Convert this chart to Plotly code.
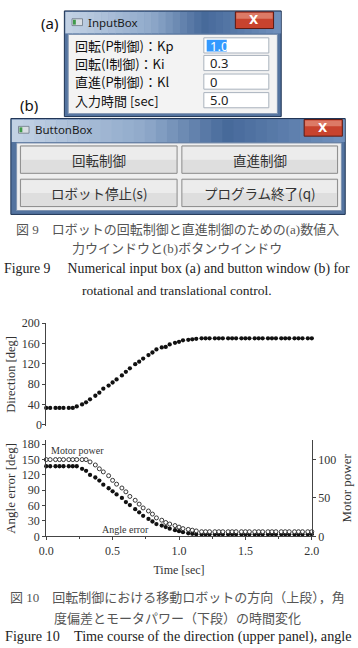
import plotly.graph_objects as go

# ---------------- data ----------------
time_sec = [0.00, 0.03, 0.07, 0.10, 0.13, 0.17, 0.20, 0.23, 0.27, 0.30,
            0.33, 0.37, 0.40, 0.43, 0.47, 0.50, 0.53, 0.57, 0.60, 0.63,
            0.67, 0.70, 0.73, 0.77, 0.80, 0.83, 0.87, 0.90, 0.93, 0.97,
            1.00, 1.03, 1.07, 1.10, 1.13, 1.17, 1.20, 1.23, 1.27, 1.30,
            1.33, 1.37, 1.40, 1.43, 1.47, 1.50, 1.53, 1.57, 1.60, 1.63,
            1.67, 1.70, 1.73, 1.77, 1.80, 1.83, 1.87, 1.90, 1.93, 1.97,
            2.00]

direction_deg = [33, 33, 33, 33, 33, 33, 33,
                 36, 40, 44, 50, 57, 63, 71, 77, 83, 89, 97, 104, 111, 119,
                 124, 130, 137, 142, 148, 152, 153, 158, 161, 163, 166, 167,
                 168, 169,
                 170, 170, 170, 170, 170, 170, 170, 170, 170, 170, 170, 170,
                 170, 170, 170, 170, 170, 170, 170, 170, 170, 170, 170, 170,
                 170, 170]

angle_error_deg = [137, 137, 137, 137, 137, 137, 137, 137,
                   132, 128, 120, 115, 109, 101, 94, 88, 82, 75, 67, 61, 53,
                   47, 40, 34, 29, 24, 21, 18, 15, 12, 10, 8, 6, 5,
                   4, 4, 4, 4, 4, 4, 4, 4, 4, 4, 4, 4, 4, 4, 4, 4, 4, 4, 4,
                   4, 4, 4, 4, 4, 4, 4, 4]

motor_power = [100, 100, 100, 100, 100, 100, 100, 100, 100, 100,
               97, 93, 88, 84, 79, 73, 68, 63, 58, 52, 47, 42, 37, 33, 29,
               24, 21, 18, 16, 14, 12, 10, 9, 8, 7,
               6, 6, 6, 6, 6, 6, 6, 6, 6, 6, 6, 6, 6, 6, 6, 6, 6, 6, 6, 6,
               6, 6, 6, 6, 6, 6]

direction_ticks = [0, 40, 80, 120, 160, 200]
error_ticks = [0, 30, 60, 90, 120, 150, 180]
power_ticks = [0, 50, 100]
time_ticks = [0.0, 0.5, 1.0, 1.5, 2.0]

input_labels = ["回転(P制御)：Kp", "回転(I制御)：Ki", "直進(P制御)：Kl", "入力時間 [sec]"]
input_values = ["1.0", "0.3", "0", "5.0"]
button_labels = ["回転制御", "直進制御", "ロボット停止(s)", "プログラム終了(q)"]

# ---------------- helpers ----------------
W, H = 358, 648
def px(x):
    return x / W
def py(y):
    return 1 - y / H

shapes = []
annotations = []

def rect(x0, y0, x1, y1, fill, line=None, lw=1):
    shapes.append(dict(type="rect", xref="paper", yref="paper",
                       x0=px(x0), x1=px(x1), y0=py(y1), y1=py(y0),
                       fillcolor=fill,
                       line=dict(color=line if line else fill, width=lw if line else 0),
                       layer="above"))

def text(x, y, s, size, color="#111", family="Noto Sans CJK JP", xanchor="center"):
    annotations.append(dict(x=px(x), y=py(y), xref="paper", yref="paper", text=s,
                            showarrow=False, xanchor=xanchor, yanchor="middle",
                            font=dict(size=size, color=color, family=family)))

def hex2rgb(h):
    h = h.lstrip("#")
    return tuple(int(h[i:i + 2], 16) for i in (0, 2, 4))

def grad(stops, t):
    for (t0, c0), (t1, c1) in zip(stops[:-1], stops[1:]):
        if t0 <= t <= t1:
            f = (t - t0) / (t1 - t0) if t1 > t0 else 0
            a, b = hex2rgb(c0), hex2rgb(c1)
            return "rgb(%d,%d,%d)" % tuple(round(a[k] + (b[k] - a[k]) * f) for k in range(3))
    return stops[-1][1]

title_stops = [(0.0, "#c2d1e4"), (0.4, "#8fa9ca"), (0.65, "#46699a"), (1.0, "#6f8fbb")]

def window(x0, y0, x1, y1, title_h, title, cx0):
    rect(x0, y0, x1, y1, "#53739f", "#1d3253", 1)
    n = 30
    w = (x1 - x0 - 2) / n
    for i in range(n):
        rect(x0 + 1 + i * w, y0 + 1, x0 + 1 + (i + 1) * w + 0.6, y0 + title_h,
             grad(title_stops, i / (n - 1)))
    # icon
    rect(x0 + 8, y0 + 8, x0 + 19, y0 + 15, "#d8dde3", "#6b7785", 0.8)
    rect(x0 + 9, y0 + 9, x0 + 12, y0 + 14, "#3f9a4a")
    text(x0 + 23, y0 + 11.5, title, 11.5, "#1a1a1a", "Noto Sans", "left")
    # close button
    rect(cx0, y0 + 1, cx0 + 40, y0 + 18, "#c8432e", "#5e1a12", 1)
    rect(cx0 + 1, y0 + 2, cx0 + 39, y0 + 8, "#dc7a66")
    text(cx0 + 20, y0 + 9.5, "<b>X</b>", 12, "#ffffff", "DejaVu Sans")

# ---------------- (a) InputBox ----------------
text(43, 16, "(a)", 15, "#111", "Noto Sans")
window(59, 4, 286, 112, 23, "InputBox", 238)
rect(63, 28, 282, 109, "#f3f3f3", "#7f93b0", 1)
row_y = [39.5, 57.5, 76.5, 95.5]
for lab, val, yy in zip(input_labels, input_values, row_y):
    text(68, yy, lab, 13, "#111", "Noto Sans CJK JP", "left")
    rect(205, yy - 8, 273, yy + 7.5, "#ffffff", "#a9b2bd", 1)
for k, (val, yy) in enumerate(zip(input_values, row_y)):
    if k == 0:
        rect(208, yy - 6, 229, yy + 6, "#3399ff")
        text(209, yy, val, 13, "#ffffff", "Noto Sans", "left")
    else:
        text(209, yy, val, 13, "#222", "Noto Sans", "left")

# ---------------- (b) ButtonBox ----------------
text(22, 100, "(b)", 15, "#111", "Noto Sans")
window(3, 114, 353, 212, 24, "ButtonBox", 310)
rect(9, 139, 349, 208, "#efefef", "#7f93b0", 1)
btn_boxes = [(13, 142, 177, 170), (182, 142, 345, 170),
             (13, 176, 177, 204), (182, 176, 345, 204)]
for lab, (bx0, by0, bx1, by1) in zip(button_labels, btn_boxes):
    rect(bx0, by0, bx1, by1, "#dedede", "#8a8a8a", 1)
    rect(bx0 + 1, by0 + 1, bx1 - 1, (by0 + by1) / 2, "#ececec")
    text((bx0 + bx1) / 2, (by0 + by1) / 2, lab, 13.5, "#333", "Noto Sans CJK JP")

# ---------------- captions ----------------
CJ = "Liberation Serif, Noto Sans CJK JP"
sp = "&nbsp;"
text(177, 227, "図 9　ロボットの回転制御と直進制御のための(a)数値入", 13, "#555", CJ)
text(177, 247, "力ウインドウと(b)ボタンウインドウ", 13, "#555", CJ)
text(177, 268, "Figure 9" + sp * 5 + "Numerical input box (a) and button window (b) for", 13.8, "#222", "Liberation Serif")
text(177, 290, "rotational and translational control.", 13.5, "#222", "Liberation Serif")
text(177, 604, "図 10　回転制御における移動ロボットの方向（上段），角", 13, "#555", CJ)
text(177, 625, "度偏差とモータパワー（下段）の時間変化", 13, "#555", CJ)
text(178, 643, "Figure 10" + sp * 4 + "Time course of the direction (upper panel), angle", 14.2, "#222", "Liberation Serif")

# in-plot labels
text(73, 453, "Motor power", 10, "#333", "Liberation Serif")
text(123, 534, "Angle error", 10, "#333", "Liberation Serif")

# ---------------- chart ----------------
fig = go.Figure()
fig.add_trace(go.Scatter(x=time_sec, y=direction_deg, mode="markers", xaxis="x", yaxis="y",
                         marker=dict(size=4.3, color="#111"), cliponaxis=False, showlegend=False))
fig.add_trace(go.Scatter(x=time_sec, y=angle_error_deg, mode="markers", xaxis="x2", yaxis="y2",
                         marker=dict(size=4.3, color="#111"), cliponaxis=False, showlegend=False))
fig.add_trace(go.Scatter(x=time_sec, y=motor_power, mode="markers", xaxis="x2", yaxis="y3",
                         marker=dict(size=4, color="#ffffff", line=dict(color="#222", width=0.9)),
                         cliponaxis=False, showlegend=False))

axfont = dict(family="Liberation Serif", size=12, color="#333")
common_y = dict(showline=True, linecolor="#444", linewidth=1, ticks="outside", ticklen=3,
                tickcolor="#444", showgrid=False, zeroline=False, tickfont=axfont,
                ticklabeloverflow="allow")
xdom = [px(40), px(318)]

# lowest label of the direction axis, tied to the same axis scale
y_top0, y_top1 = 428, 323
dir_range = [-2, 200]
zero_y = y_top0 - (direction_ticks[0] - dir_range[0]) / (dir_range[1] - dir_range[0]) * (y_top0 - y_top1)
annotations.append(dict(x=px(36.5), y=py(zero_y), xref="paper", yref="paper",
                        text=str(direction_ticks[0]), showarrow=False, xanchor="right",
                        yanchor="middle", borderpad=0,
                        font=dict(family="Liberation Serif", size=12, color="#333")))

fig.update_layout(
    width=W, height=H, margin=dict(l=0, r=0, t=0, b=0),
    paper_bgcolor="white", plot_bgcolor="rgba(0,0,0,0)",
    shapes=shapes, annotations=annotations, showlegend=False,
    xaxis=dict(domain=xdom, range=[0, 2], anchor="y", showline=False, showgrid=False,
               zeroline=False, showticklabels=False, ticks=""),
    yaxis=dict(domain=[py(y_top0), py(y_top1)], range=dir_range, tickvals=direction_ticks,
               ticktext=[""] + [str(v) for v in direction_ticks[1:]],
               anchor="x",
               title=dict(text="Direction [deg]", standoff=3,
                          font=dict(family="Liberation Serif", size=12.5, color="#333")),
               **common_y),
    xaxis2=dict(domain=xdom, range=[0, 2], anchor="y2", tickvals=time_ticks,
                ticktext=["%.1f" % v for v in time_ticks],
                showline=True, linecolor="#444", linewidth=1, ticks="outside", ticklen=3,
                tickcolor="#444", showgrid=False, zeroline=False, tickfont=axfont,
                minor=dict(ticks="outside", ticklen=2, tickcolor="#444", dtick=0.25),
                title=dict(text="Time [sec]", standoff=8,
                           font=dict(family="Liberation Serif", size=12, color="#333"))),
    yaxis2=dict(domain=[py(541), py(443)], range=[0, 187.5], tickvals=error_ticks,
                anchor="x2",
                title=dict(text="Angle error [deg]", standoff=3,
                           font=dict(family="Liberation Serif", size=13, color="#333")),
                **common_y),
    yaxis3=dict(overlaying="y2", side="right", range=[0, 125], tickvals=power_ticks,
                ticktext=[str(v) for v in power_ticks],
                anchor="x2",
                title=dict(text="Motor power", standoff=6,
                           font=dict(family="Liberation Serif", size=13, color="#333")),
                **common_y),
)

fig.write_html("out.html")
